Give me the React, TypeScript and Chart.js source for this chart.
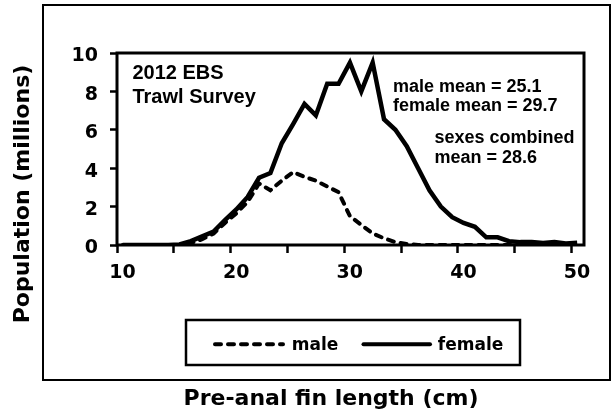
import React, { useEffect, useRef } from 'react';
import { Chart, registerables } from 'chart.js';

Chart.register(...registerables);

// Pre-anal fin length bin mid-points (cm)
const lengths = [
  10.5, 11.5, 12.5, 13.5, 14.5, 15.5, 16.5, 17.5, 18.5, 19.5,
  20.5, 21.5, 22.5, 23.5, 24.5, 25.5, 26.5, 27.5, 28.5, 29.5,
  30.5, 31.5, 32.5, 33.5, 34.5, 35.5, 36.5, 37.5, 38.5, 39.5,
  40.5, 41.5, 42.5, 43.5, 44.5, 45.5, 46.5, 47.5, 48.5, 49.5,
  50.5,
];

// Population (millions)
const maleValues = [
  0, 0, 0, 0, 0, 0, 0.1, 0.3, 0.6, 1.15,
  1.65, 2.25, 3.2, 2.85, 3.35, 3.8, 3.55, 3.35, 3.05, 2.75,
  1.5, 1.05, 0.6, 0.35, 0.15, 0.05, 0, 0, 0, 0,
  0, 0, 0, 0, 0, 0, 0, 0, 0, 0,
  0,
];

const femaleValues = [
  0, 0, 0, 0, 0, 0.03, 0.2, 0.45, 0.7, 1.3,
  1.85, 2.5, 3.5, 3.75, 5.3, 6.3, 7.35, 6.75, 8.4, 8.4,
  9.5, 8.0, 9.5, 6.55, 6.0, 5.15, 4.0, 2.85, 2.0, 1.45,
  1.15, 0.95, 0.4, 0.4, 0.2, 0.15, 0.15, 0.1, 0.15, 0.08,
  0.12,
];

const xLabelValues = [10, 20, 30, 40, 50];
const yTickValues = [0, 2, 4, 6, 8, 10];

const seriesNames = ['male', 'female'];
const xTitle = 'Pre-anal fin length (cm)';
const yTitle = 'Population (millions)';
const noteLines = [
  '2012 EBS',
  'Trawl Survey',
  'male mean = 25.1',
  'female mean = 29.7',
  'sexes combined',
  'mean = 28.6',
];

const MALE_DASH = [6, 7];

const decorPlugin = {
  id: 'decor',
  afterDraw(chart: any) {
    const { ctx, chartArea: a, scales } = chart;
    const sx = scales.x;
    const sy = scales.y;
    ctx.save();

    // plot frame
    ctx.strokeStyle = '#000';
    ctx.lineWidth = 3;
    ctx.setLineDash([]);
    ctx.strokeRect(a.left, a.top, a.right - a.left, a.bottom - a.top);

    // annotations (placed in data coordinates)
    const notes = [
      { t: noteLines[0], x: 11.36, y: 8.62, size: 20 },
      { t: noteLines[1], x: 11.36, y: 7.4, size: 20 },
      { t: noteLines[2], x: 34.28, y: 7.97, size: 18 },
      { t: noteLines[3], x: 34.28, y: 6.98, size: 18 },
      { t: noteLines[4], x: 37.94, y: 5.29, size: 18 },
      { t: noteLines[5], x: 37.94, y: 4.25, size: 18 },
    ];
    ctx.fillStyle = '#000';
    ctx.textAlign = 'left';
    ctx.textBaseline = 'alphabetic';
    for (const n of notes) {
      ctx.font = `bold ${n.size}px "Liberation Sans", Arial, sans-serif`;
      ctx.fillText(n.t, sx.getPixelForValue(n.x), sy.getPixelForValue(n.y));
    }

    // outer chart border
    ctx.lineWidth = 2;
    ctx.strokeRect(43, 5, 567, 375);

    // axis titles
    ctx.font = 'bold 22px "DejaVu Sans", sans-serif';
    ctx.textAlign = 'center';
    ctx.fillText(xTitle, 331, 405);
    ctx.save();
    ctx.translate(28.5, 194);
    ctx.rotate(-Math.PI / 2);
    ctx.fillText(yTitle, 0, 0);
    ctx.restore();

    // legend
    ctx.lineWidth = 2.5;
    ctx.strokeRect(186, 320, 334, 45);
    const ly = 344.3;
    ctx.lineWidth = 4;
    ctx.lineCap = 'round';
    ctx.setLineDash(MALE_DASH);
    ctx.beginPath();
    ctx.moveTo(215, ly);
    ctx.lineTo(283, ly);
    ctx.stroke();
    ctx.setLineDash([]);
    ctx.beginPath();
    ctx.moveTo(363.5, ly);
    ctx.lineTo(430, ly);
    ctx.stroke();
    ctx.font = 'bold 17px "DejaVu Sans", sans-serif';
    ctx.textAlign = 'left';
    ctx.fillText(seriesNames[0], 291.7, 350);
    ctx.fillText(seriesNames[1], 437.8, 350);

    ctx.restore();
  },
};

export default function App() {
  const canvasRef = useRef<HTMLCanvasElement | null>(null);

  useEffect(() => {
    const canvas = canvasRef.current;
    if (!canvas) return;
    const tickFont = { family: '"DejaVu Sans", sans-serif', size: 19, weight: 'bold' as const };
    const chart = new Chart(canvas, {
      type: 'line',
      data: {
        datasets: [
          {
            label: seriesNames[0],
            data: lengths.map((x, i) => ({ x, y: maleValues[i] })),
            borderColor: '#000',
            backgroundColor: '#000',
            borderWidth: 4,
            borderDash: MALE_DASH,
            borderCapStyle: 'round',
            pointRadius: 0,
            tension: 0,
            fill: false,
          },
          {
            label: seriesNames[1],
            data: lengths.map((x, i) => ({ x, y: femaleValues[i] })),
            borderColor: '#000',
            backgroundColor: '#000',
            borderWidth: 4.5,
            pointRadius: 0,
            tension: 0,
            fill: false,
          },
        ],
      },
      options: {
        responsive: false,
        animation: false,
        devicePixelRatio: 1,
        layout: { padding: { left: 0, top: 53, right: 29, bottom: 0 } },
        plugins: {
          legend: { display: false },
          tooltip: { enabled: false },
        },
        scales: {
          x: {
            type: 'linear',
            min: 10,
            max: 51.1,
            border: { display: false },
            grid: {
              display: true,
              drawOnChartArea: false,
              drawTicks: true,
              tickLength: 8,
              tickWidth: 2.5,
              tickColor: '#000',
            },
            ticks: {
              stepSize: 5,
              includeBounds: false,
              autoSkip: false,
              maxRotation: 0,
              color: '#000',
              font: tickFont,
              padding: 9,
              labelOffset: 5.5,
              callback: (v: any) => (xLabelValues.includes(Number(v)) ? String(v) : ''),
            },
            afterFit: (s: any) => {
              s.height = 173;
            },
          },
          y: {
            type: 'linear',
            min: yTickValues[0],
            max: yTickValues[yTickValues.length - 1],
            border: { display: false },
            grid: {
              display: true,
              drawOnChartArea: false,
              drawTicks: true,
              tickLength: 7,
              tickWidth: 2.5,
              tickColor: '#000',
            },
            ticks: {
              stepSize: 2,
              color: '#000',
              font: tickFont,
              padding: 12,
              labelOffset: 3.5,
              callback: (v: any) => (yTickValues.includes(Number(v)) ? String(v) : ''),
            },
            afterFit: (s: any) => {
              s.width = 117;
            },
          },
        },
      },
      plugins: [decorPlugin],
    });
    return () => chart.destroy();
  }, []);

  return (
    <div style={{ position: 'fixed', left: 0, top: 0, width: 613, height: 418, background: '#fff' }}>
      <canvas ref={canvasRef} width={613} height={418} style={{ display: 'block' }} />
    </div>
  );
}
